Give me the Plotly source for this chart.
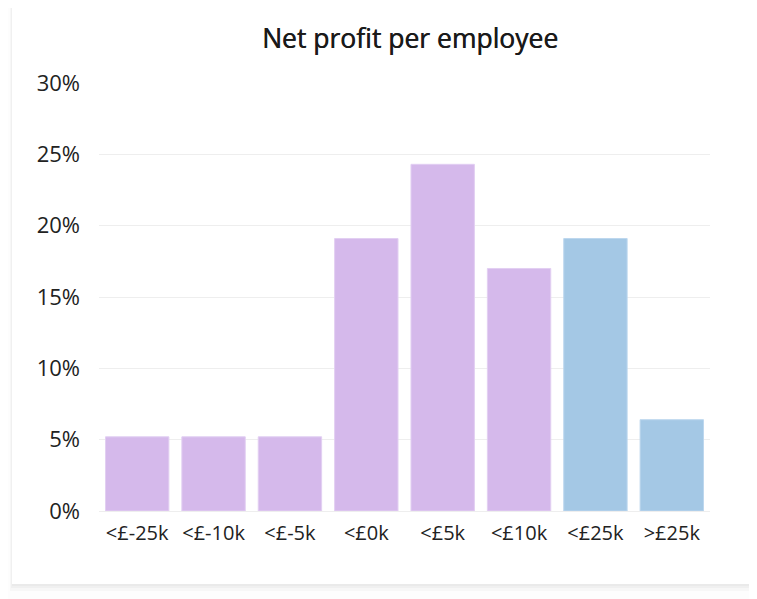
import plotly.graph_objects as go

categories = ["<£-25k", "<£-10k", "<£-5k", "<£0k", "<£5k", "<£10k", "<£25k", ">£25k"]
values = [5.2, 5.2, 5.2, 19.1, 24.3, 17.0, 19.1, 6.4]
bar_colors = ["#d5b9eb"] * 6 + ["#a4c8e5"] * 2
edge_colors = ["#e2cff2"] * 6 + ["#bdd7ee"] * 2
y_ticks = [0, 5, 10, 15, 20, 25, 30]
y_tick_text = [f"{v}%" for v in y_ticks]

W, H = 757, 599
# observed rendering offset of the page
DX, DY = 3, 7
L, T = 94 - DX, 82 - DY
PW, PH = 611, 428

fig = go.Figure()
fig.add_trace(go.Bar(
    x=categories, y=values,
    marker=dict(color=bar_colors, line=dict(color=edge_colors, width=1)),
    hoverinfo="x+y",
))

def px_rect(x0, y0, x1, y1, color):
    # coordinates given in target screen pixels
    return dict(type="rect", xref="paper", yref="paper", layer="below",
                x0=(x0 - 94) / PW, x1=(x1 - 94) / PW,
                y0=(510 - y1) / PH, y1=(510 - y0) / PH,
                fillcolor=color, line=dict(width=0))

shapes = [
    px_rect(5, 5, 751, 590, "#f7f7f7"),
    px_rect(6, 5, 749, 587, "#f0f0f0"),
    px_rect(7, 5, 747, 585, "#eaeaea"),
    px_rect(7, 6, 745, 583, "#ffffff"),
]

fig.update_layout(
    width=W, height=H,
    margin=dict(l=L, r=W - L - PW, t=T, b=H - T - PH),
    paper_bgcolor="#fdfdfd",
    plot_bgcolor="rgba(0,0,0,0)",
    font=dict(family="Open Sans, Noto Sans, sans-serif", color="#222222", size=20),
    title=dict(text="Net profit per employee", x=(405 - DX) / W, xanchor="center",
               y=1 - (38 - DY) / H, yanchor="middle",
               font=dict(size=26.5, color="#1a1a1a", family="Open Sans",
                         shadow="0.5px 0 0 #1a1a1a")),
    bargap=0.17,
    showlegend=False,
    shapes=shapes,
    xaxis=dict(showgrid=False, showline=False, ticks="", tickfont=dict(size=20),
               ticklabelstandoff=8),
    yaxis=dict(range=[0, 30], tickvals=y_ticks, ticktext=y_tick_text,
               showgrid=True, gridcolor="#eeeeee", gridwidth=1,
               zeroline=True, zerolinecolor="#eeeeee", zerolinewidth=1,
               showline=False, ticks="", tickfont=dict(size=22),
               ticklabelstandoff=18),
)
fig.write_html("out.html")
